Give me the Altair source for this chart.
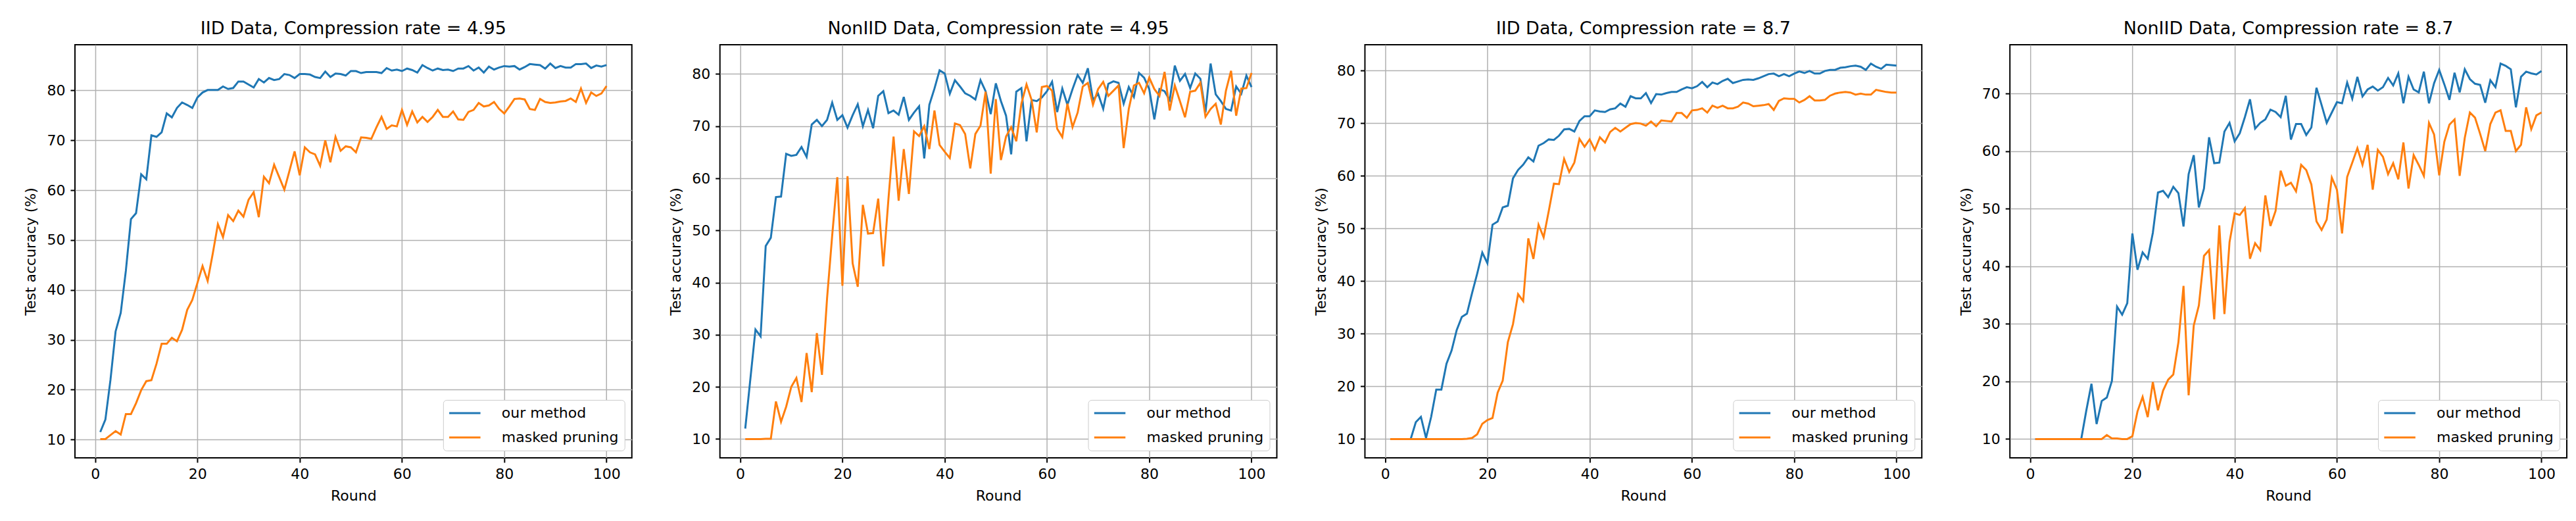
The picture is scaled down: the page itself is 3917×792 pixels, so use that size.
import altair as alt
import pandas as pd

ROUNDS = list(range(1, 101))
SERIES = ["our method", "masked pruning"]
COLORS = ["#1f77b4", "#ff7f0e"]
X_TICKS = [0, 20, 40, 60, 80, 100]

TITLES = [
    "IID Data, Compression rate = 4.95",
    "NonIID Data, Compression rate = 4.95",
    "IID Data, Compression rate = 8.7",
    "NonIID Data, Compression rate = 8.7",
]

iid_495_ours = [
    11.5, 14.0, 22.0, 31.7, 35.4, 43.8, 54.2, 55.4, 63.2, 62.2,
    71.0, 70.7, 71.6, 75.4, 74.6, 76.5, 77.6, 77.1, 76.5, 78.6,
    79.6, 80.1, 80.1, 80.1, 80.8, 80.3, 80.5, 81.8, 81.8, 81.2,
    80.6, 82.3, 81.6, 82.5, 82.1, 82.3, 83.3, 83.1, 82.5, 83.3,
    83.3, 83.2, 82.7, 82.5, 83.8, 82.7, 83.4, 83.3, 83.0, 83.9,
    83.9, 83.5, 83.7, 83.7, 83.7, 83.5, 84.5, 84.0, 84.2, 83.9,
    84.4, 84.1, 83.6, 85.1, 84.5, 84.0, 84.4, 84.1, 84.2, 83.9,
    84.4, 84.4, 84.9, 84.0, 84.6, 83.6, 84.8, 84.2, 84.6, 84.9,
    84.8, 84.9, 84.2, 84.7, 85.3, 85.2, 85.1, 84.4, 85.4, 84.5,
    84.9, 84.6, 84.6, 85.3, 85.3, 85.4, 84.5, 85.0, 84.8, 85.1,
]
iid_495_masked = [
    10.1, 10.1, 10.9, 11.7, 11.0, 15.1, 15.1, 17.3, 19.9, 21.7,
    21.9, 25.2, 29.2, 29.2, 30.4, 29.7, 32.0, 36.0, 38.0, 41.4,
    44.8, 41.8, 47.3, 53.2, 50.6, 55.0, 53.8, 55.9, 54.7, 58.1,
    59.6, 54.6, 62.7, 61.4, 65.1, 62.6, 60.1, 63.9, 67.8, 63.0,
    68.6, 67.6, 67.2, 64.9, 70.0, 65.6, 70.7, 67.9, 68.8, 68.6,
    67.6, 70.6, 70.5, 70.3, 72.6, 74.7, 72.3, 73.0, 72.8, 76.1,
    73.1, 75.8, 73.6, 74.7, 73.7, 74.7, 76.1, 74.7, 74.7, 75.8,
    74.2, 74.1, 75.7, 76.1, 77.5, 76.8, 77.0, 77.7, 76.3, 75.4,
    76.8, 78.3, 78.4, 78.2, 76.3, 76.1, 78.3, 77.7, 77.5, 77.6,
    77.8, 77.9, 78.4, 77.7, 80.4, 77.5, 79.6, 78.9, 79.4, 80.9,
]

noniid_495_ours = [
    12.0, 21.5, 31.0, 29.7, 47.0, 48.6, 56.4, 56.5, 64.7, 64.3,
    64.5, 66.0, 64.1, 70.3, 71.2, 70.0, 71.2, 74.5, 71.2, 72.1,
    69.7, 72.1, 74.2, 70.0, 73.1, 69.6, 75.8, 76.7, 72.5, 73.0,
    72.2, 75.6, 71.2, 72.6, 73.8, 63.8, 74.1, 77.2, 80.7, 80.1,
    76.2, 78.8, 77.6, 76.3, 75.8, 75.1, 78.8, 76.7, 72.3, 78.2,
    74.8, 72.0, 64.6, 76.6, 77.3, 67.1, 75.0, 74.8, 75.5, 76.7,
    78.5, 72.7, 77.2, 74.1, 77.1, 79.8, 78.3, 81.1, 75.0, 76.2,
    73.3, 78.1, 78.6, 78.3, 74.3, 77.5, 75.6, 80.2, 79.3, 77.1,
    71.3, 77.1, 76.7, 75.0, 81.6, 78.7, 80.0, 77.3, 80.1, 79.1,
    72.6, 82.0, 76.1, 74.8, 73.3, 73.0, 77.6, 76.2, 79.7, 77.5,
]
noniid_495_masked = [
    10.0, 10.0, 10.0, 10.0, 10.05, 10.05, 17.2, 13.3, 16.2, 20.0,
    21.7, 17.1, 26.5, 19.0, 30.3, 22.3, 37.0, 49.0, 60.2, 39.4,
    60.4, 43.7, 39.2, 54.9, 49.4, 49.5, 56.1, 43.1, 56.0, 68.0,
    55.7, 65.6, 57.0, 69.0, 68.1, 70.0, 65.6, 73.0, 66.4, 65.1,
    63.9, 70.5, 70.2, 68.5, 61.9, 68.5, 70.1, 76.6, 60.9, 75.2,
    63.5, 68.0, 69.8, 67.1, 74.3, 78.0, 75.0, 68.8, 77.5, 77.7,
    76.8, 69.5, 67.9, 74.3, 69.8, 72.6, 77.6, 78.3, 74.1, 77.1,
    78.5, 75.8, 76.8, 77.8, 65.8, 73.3, 77.8, 78.3, 76.3, 79.3,
    77.1, 75.8, 80.4, 73.0, 77.8, 74.8, 71.7, 76.6, 76.8, 78.3,
    71.8, 73.3, 74.3, 70.3, 76.8, 80.6, 72.0, 77.2, 77.3, 80.2,
]

iid_87_ours = [
    10.0, 10.0, 10.0, 10.0, 10.0, 13.2, 14.2, 10.2, 14.2, 19.4,
    19.4, 24.3, 26.8, 30.7, 33.2, 33.8, 37.7, 41.4, 45.4, 43.4,
    50.7, 51.3, 54.0, 54.3, 59.5, 61.1, 62.1, 63.5, 62.7, 65.7,
    66.2, 66.9, 66.8, 67.6, 68.8, 68.9, 68.4, 70.4, 71.3, 71.3,
    72.4, 72.2, 72.1, 72.6, 72.8, 73.7, 73.1, 75.1, 74.7, 74.7,
    75.7, 73.8, 75.5, 75.4, 75.7, 75.9, 75.9, 76.4, 76.8, 76.6,
    77.0, 77.8, 76.8, 77.7, 77.4, 78.0, 78.4, 77.6, 77.9, 78.2,
    78.3, 78.2, 78.5, 78.9, 79.3, 79.4, 78.9, 79.3, 78.9, 79.4,
    79.8, 79.5, 79.9, 79.4, 79.4, 79.9, 80.1, 80.1, 80.5, 80.6,
    80.8, 80.9, 80.7, 80.1, 81.3, 80.7, 80.3, 81.1, 81.0, 80.9,
]
iid_87_masked = [
    10.0, 10.0, 10.0, 10.0, 10.0, 10.0, 10.0, 10.0, 10.0, 10.0,
    10.0, 10.0, 10.0, 10.0, 10.0, 10.05, 10.2, 10.9, 12.9, 13.6,
    14.0, 18.8, 21.1, 28.4, 31.8, 37.5, 36.2, 48.1, 44.2, 50.7,
    48.3, 53.3, 58.5, 58.4, 63.2, 60.7, 62.5, 67.0, 65.5, 66.9,
    64.9, 67.3, 66.3, 68.3, 69.1, 68.4, 69.1, 69.8, 70.0, 69.9,
    69.5, 70.3, 69.4, 70.5, 70.4, 70.3, 71.9, 71.9, 71.0, 72.4,
    72.5, 72.8, 72.0, 73.3, 72.9, 73.3, 72.8, 72.8, 73.1, 73.9,
    73.7, 73.2, 73.3, 73.4, 73.6, 72.5, 74.2, 74.7, 74.6, 74.6,
    73.9, 74.4, 75.1, 74.3, 74.3, 74.4, 75.2, 75.6, 75.8, 75.9,
    75.8, 75.4, 75.6, 75.4, 75.4, 76.3, 76.1, 75.9, 75.8, 75.8,
]

noniid_87_ours = [
    10.0, 10.0, 10.0, 10.0, 10.0, 10.0, 10.0, 10.0, 10.0, 10.0,
    15.0, 19.6, 12.6, 16.6, 17.2, 20.1, 33.0, 31.6, 33.6, 45.7,
    39.4, 42.4, 41.3, 45.8, 52.8, 53.1, 52.0, 53.8, 52.7, 46.9,
    56.0, 59.3, 50.2, 53.5, 62.4, 57.9, 58.0, 63.4, 64.9, 61.7,
    63.1, 65.9, 69.0, 63.9, 64.9, 65.5, 67.2, 66.8, 65.9, 69.6,
    62.0, 64.7, 64.7, 62.8, 64.1, 71.0, 68.0, 64.9, 66.7, 68.5,
    68.3, 71.9, 69.1, 72.9, 69.5, 70.7, 71.2, 70.5, 71.1, 72.7,
    71.4, 73.5, 68.3, 72.9, 70.7, 70.2, 73.8, 68.3, 71.8, 74.1,
    71.6, 68.9, 73.6, 70.2, 74.2, 72.5, 71.7, 71.5, 68.4, 72.3,
    71.1, 75.2, 74.8, 74.2, 67.6, 72.9, 73.8, 73.5, 73.3, 73.9,
]
noniid_87_masked = [
    10.0, 10.0, 10.0, 10.0, 10.0, 10.0, 10.0, 10.0, 10.0, 10.0,
    10.0, 10.0, 10.0, 10.0, 10.7, 10.1, 10.1, 10.0, 10.0, 10.5,
    14.8, 17.3, 13.8, 19.9, 15.0, 18.4, 20.3, 21.2, 26.8, 36.6,
    17.6, 29.7, 33.2, 41.8, 42.8, 30.8, 47.1, 31.7, 44.2, 49.2,
    48.9, 50.1, 41.3, 44.0, 42.8, 52.3, 47.0, 49.6, 56.6, 54.0,
    54.5, 53.0, 57.6, 56.7, 54.2, 47.8, 46.3, 48.1, 55.4, 53.3,
    45.7, 55.5, 58.0, 60.5, 57.6, 61.1, 53.3, 60.2, 59.0, 56.0,
    57.9, 55.1, 61.5, 53.5, 59.3, 57.6, 55.7, 64.9, 62.9, 55.8,
    61.6, 64.6, 65.5, 55.7, 62.3, 66.7, 65.8, 63.0, 60.0, 64.7,
    66.7, 67.1, 63.5, 63.5, 60.0, 61.1, 67.6, 63.8, 66.2, 66.7,
]

PANELS = [
    (TITLES[0], iid_495_ours, iid_495_masked),
    (TITLES[1], noniid_495_ours, noniid_495_masked),
    (TITLES[2], iid_87_ours, iid_87_masked),
    (TITLES[3], noniid_87_ours, noniid_87_masked),
]

FONT = "DejaVu Sans"


def panel(title, ours, masked):
    df = pd.DataFrame({
        "round": ROUNDS * 2,
        "acc": ours + masked,
        "series": [SERIES[0]] * len(ours) + [SERIES[1]] * len(masked),
    })
    lo, hi = min(ours + masked), max(ours + masked)
    pad = 0.05 * (hi - lo)
    ydom = [lo - pad, hi + pad]
    yvals = [v for v in range(10, 100, 10) if ydom[0] <= v <= ydom[1]]

    x = alt.X("round:Q",
              scale=alt.Scale(domain=[-3.95, 104.95], nice=False, zero=False),
              axis=alt.Axis(values=X_TICKS, title="Round", format="d"))
    y = alt.Y("acc:Q",
              scale=alt.Scale(domain=ydom, nice=False, zero=False),
              axis=alt.Axis(values=yvals, title="Test accuracy (%)", format="d"))
    color = alt.Color(
        "series:N",
        scale=alt.Scale(domain=SERIES, range=COLORS),
        legend=alt.Legend(
            title=None, orient="bottom-right", offset=11,
            symbolType="M-2.5,0L2.5,0", symbolSize=361, symbolStrokeWidth=3,
            symbolOffset=13,
            labelFont=FONT, labelFontSize=22, labelColor="black",
            labelLimit=600, labelOffset=45, rowPadding=15, padding=9,
            strokeColor="#cccccc", fillColor="white", cornerRadius=5,
        ),
    )
    base = alt.Chart(df)
    layers = [
        base.transform_filter(alt.datum.series == s)
        .mark_line(strokeWidth=3, clip=True)
        .encode(x=x, y=y, color=color)
        for s in SERIES
    ]
    return alt.layer(*layers).properties(
        width=847, height=628,
        title=alt.TitleParams(title, anchor="middle"),
    )


chart = alt.hconcat(*[panel(*p) for p in PANELS], spacing=54).resolve_scale(
    color="independent"
).properties(
    padding={"left": 27, "top": 21, "right": 5, "bottom": 5}
).configure_view(
    stroke="black", strokeWidth=2
).configure_axis(
    grid=True, gridColor="#b0b0b0", gridWidth=1.5, domain=False,
    tickColor="black", tickWidth=2, tickSize=7,
    labelFont=FONT, labelFontSize=22, labelColor="black", labelPadding=8,
    titleFont=FONT, titleFontSize=22, titleFontWeight="normal",
    titleColor="black", titlePadding=12,
).configure_title(
    font=FONT, fontSize=27, fontWeight="normal", color="black", offset=10
)

chart.save("out.html", embed_options={"renderer": "svg", "actions": False})
